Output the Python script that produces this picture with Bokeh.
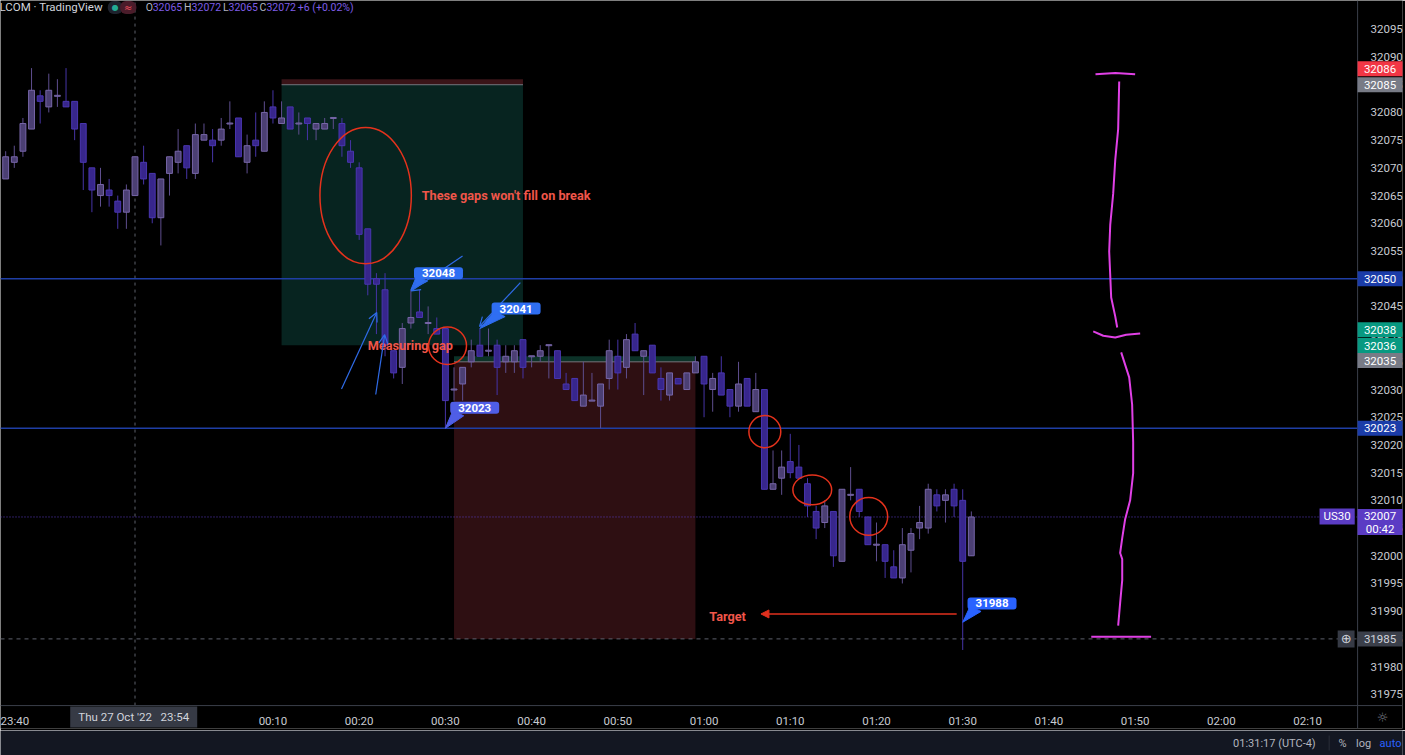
from bokeh.plotting import figure
from bokeh.models import Range1d, FixedTicker, Label, Arrow, OpenHead, NormalHead, Span, ColumnDataSource
from bokeh.layouts import column
from bokeh.embed import file_html
from bokeh.resources import INLINE
from bokeh.core.properties import value

FONT = "Roboto"

# ---- 1-minute US30 bars, minutes relative to 00:00 (Fri 28 Oct) ----
minutes = list(range(-21, 92))
opens = [32068, 32071, 32073, 32077, 32083, 32081, 32083, 32082, 32082, 32078, 32070, 32065, 32066, 32064, 32062,
         32065, 32071, 32069, 32061, 32069, 32071, 32074, 32069, 32075, 32075, 32075, 32078, 32079, 32071, 32075,
         32073, 32081, 32078, 32081, 32078, 32079, 32077, 32077, 32079, 32078, 32073, 32070, 32059, 32050, 32048,
         32037, 32034, 32042, 32044, 32042, 32041, 32041, 32030, 32031, 32035, 32038, 32037, 32038, 32035, 32035,
         32039, 32036, 32036, 32038, 32037, 32031, 32032, 32027, 32028, 32027, 32032, 32036, 32034, 32040, 32036,
         32038, 32032, 32029, 32032, 32030, 32033, 32036, 32030, 32033, 32030, 32027, 32032, 32026, 32030, 32012,
         32014, 32017, 32016, 32013, 32008, 32006, 32008, 31999, 32011, 32012, 32007, 32002, 32002, 31998, 31996,
         32001, 32005, 32005, 32011, 32010, 32012, 32010, 32000]
highs = [32073, 32074, 32079, 32088, 32084, 32087, 32086, 32088, 32082, 32078, 32070, 32070, 32068, 32065, 32067,
         32072, 32074, 32069, 32068, 32072, 32077, 32074, 32078, 32078, 32077, 32079, 32082, 32079, 32076, 32080,
         32082, 32084, 32082, 32081, 32080, 32079, 32078, 32079, 32079, 32079, 32075, 32071, 32059, 32051, 32051,
         32037, 32042, 32048, 32048, 32045, 32043, 32041, 32034, 32034, 32039, 32041, 32041, 32039, 32038, 32038,
         32039, 32036, 32038, 32038, 32037, 32033, 32032, 32035, 32033, 32031, 32039, 32039, 32040, 32042, 32037,
         32038, 32034, 32033, 32032, 32033, 32036, 32036, 32033, 32036, 32030, 32035, 32032, 32033, 32030, 32019,
         32019, 32022, 32020, 32014, 32009, 32010, 32008, 32012, 32016, 32012, 32007, 32006, 32002, 32001, 32005,
         32005, 32009, 32013, 32012, 32012, 32013, 32012, 32008]
lows = [32068, 32070, 32072, 32077, 32078, 32080, 32081, 32081, 32075, 32066, 32062, 32063, 32063, 32059, 32059,
        32065, 32067, 32060, 32056, 32065, 32069, 32068, 32068, 32075, 32071, 32074, 32077, 32072, 32069, 32072,
        32073, 32078, 32078, 32077, 32076, 32075, 32075, 32077, 32077, 32072, 32070, 32057, 32047, 32040, 32036,
        32032, 32031, 32041, 32043, 32040, 32040, 32023, 32028, 32028, 32034, 32036, 32036, 32029, 32033, 32033,
        32032, 32034, 32035, 32032, 32032, 32030, 32028, 32027, 32028, 32023, 32030, 32030, 32032, 32037, 32029,
        32033, 32028, 32028, 32031, 32030, 32033, 32025, 32026, 32029, 32025, 32026, 32027, 32026, 32012, 32012,
        32011, 32014, 32014, 32007, 32003, 32005, 31998, 31999, 32010, 32007, 32002, 31999, 31996, 31996, 31995,
        31997, 32003, 32004, 32008, 32006, 32007, 31983, 32000]
closes = [32072, 32072, 32078, 32084, 32082, 32084, 32083, 32081, 32077, 32071, 32066, 32067, 32065, 32062, 32066,
          32072, 32068, 32061, 32068, 32072, 32073, 32070, 32076, 32076, 32074, 32077, 32078, 32072, 32074, 32074,
          32080, 32079, 32079, 32077, 32078, 32078, 32078, 32078, 32079, 32074, 32071, 32058, 32049, 32049, 32038,
          32033, 32041, 32043, 32043, 32042, 32040, 32028, 32030, 32034, 32037, 32036, 32037, 32034, 32036, 32037,
          32034, 32036, 32037, 32038, 32032, 32030, 32028, 32029, 32028, 32031, 32037, 32033, 32039, 32037, 32037,
          32033, 32030, 32033, 32031, 32033, 32035, 32031, 32032, 32029, 32027, 32031, 32027, 32030, 32012, 32013,
          32016, 32015, 32014, 32009, 32005, 32009, 32000, 32012, 32011, 32008, 32002, 32002, 31999, 31996, 32002,
          32004, 32006, 32012, 32009, 32011, 32009, 31999, 32007]

# axis ticks
price_ticks = [31975, 31980, 31985, 31990, 31995, 32000, 32005, 32010, 32015, 32020, 32025, 32030,
               32035, 32040, 32045, 32050, 32055, 32060, 32065, 32070, 32075, 32080, 32085, 32090, 32095]
time_ticks = [-20, 10, 20, 30, 40, 50, 60, 70, 80, 90, 100, 110, 120, 130]
time_labels = ["23:40", "00:10", "00:20", "00:30", "00:40", "00:50", "01:00", "01:10", "01:20",
               "01:30", "01:40", "01:50", "02:00", "02:10"]

# position tools (minutes, prices)
short_start, short_end = 11, 39
short_stop, short_entry, short_target = 32086, 32085, 32038
long_start, long_end = 31, 59
long_target, long_entry, long_stop = 32036, 32035, 31985

# horizontal levels and crosshair
levels = [32050, 32023]
last_price = 32007
countdown = "00:42"
cross_t, cross_p = -6, 31985
cross_time_text = "Thu 27 Oct '22\u00a0\u00a0\u00a023:54"

# hand-drawn rings around the gaps
ring_t = [20.75, 30.25, 67.05, 72.55, 79.1]
ring_p = [32065.0, 32037.9, 32022.4, 32011.9, 32007.1]
ring_w = [10.6, 4.4, 3.7, 4.5, 4.4]
ring_h = [24.6, 6.8, 5.8, 5.4, 6.8]

# price notes
note_t = [26, 34, 30, 90]
note_p = [32048, 32041, 32023, 31988]
note_box_t = [29.2, 38.2, 33.4, 93.4]
note_box_p = [32051.0, 32044.6, 32026.7, 31991.4]
note_colors = ["#2f6ef2", "#2f6ef2", "#4f5ee6", "#2962ff"]

# free text
caption_t = [27.25, 21.0, 60.6]
caption_p = [32065.1, 32037.9, 31989.0]
captions = ["These gaps won't fill on break", "Measuring gap", "Target"]

# blue hand-drawn arrows
arrow_t0 = [17.95, 21.92, 31.99, 38.7]
arrow_p0 = [32030.1, 32029.1, 32054.1, 32049.3]
arrow_t1 = [22.04, 22.96, 26.03, 33.96]
arrow_p1 = [32043.9, 32039.9, 32047.8, 32041.4]

# target arrow
target_arrow_t = [89.3, 66.6]
target_arrow_p = [31989.5, 31989.5]

# magenta brace
brace_t = [
    [105.4, 107.7, 110.0],
    [108.15, 108.03, 107.69, 107.45, 107.11, 106.99, 107.22, 107.69, 107.92],
    [105.14, 106.30, 107.69, 108.96, 110.58],
    [108.38, 109.31, 109.65, 109.77, 109.77, 109.42, 108.84, 108.50, 108.26, 108.50, 108.50, 108.26, 108.03],
    [104.91, 111.85],
]
brace_p = [
    [32086.9, 32087.1, 32086.9],
    [32085.6, 32077.0, 32071.4, 32065.3, 32059.7, 32054.9, 32046.6, 32043.2, 32041.2],
    [32040.5, 32039.7, 32039.4, 32039.9, 32040.1],
    [32036.7, 32032.2, 32027.3, 32020.5, 32014.9, 32010.0, 32006.6, 32003.2, 32000.5, 31999.4, 31995.6,
     31991.5, 31987.4],
    [31985.4, 31985.4],
]

# ---- layout: the frame spans the whole canvas; the price scale column and
# the time scale strip live inside it, the axes draw their labels inwards ----
PAGE_W, PAGE_H = 1405, 730
CHART_W, CHART_H = 1360, 707            # candle pane
X_START, CHART_X_END = -21.6, 135.8     # minutes across the candle pane
CHART_Y_START, Y_END = 31972.97, 32100.2
MPP = (CHART_X_END - X_START) / CHART_W   # minutes per pixel
PPP = (Y_END - CHART_Y_START) / CHART_H   # points per pixel
X_END = X_START + PAGE_W * MPP
Y_START = Y_END - PAGE_H * PPP


def px_t(px):
    return X_START + px * MPP


def px_p(py):
    return Y_END - py * PPP


UP_FILL, UP_LINE, UP_WICK = "#4b3f73", "#7766a8", "#5e4e8e"
DN_FILL, DN_LINE, DN_WICK = "#37268c", "#4a36b0", "#4634a6"
AXIS_TEXT = "#c8cbd2"
SEP = "#3a3e49"

p = figure(width=PAGE_W, height=PAGE_H, x_range=Range1d(X_START, X_END), y_range=Range1d(Y_START, Y_END),
           y_axis_location="right", toolbar_location=None, output_backend="svg",
           min_border=0, min_border_left=0, min_border_right=0, min_border_top=0, min_border_bottom=0,
           background_fill_color="#000000", border_fill_color="#000000", outline_line_color=None)
p.grid.visible = False

yax = p.yaxis[0]
yax.ticker = FixedTicker(ticks=price_ticks)
yax.axis_line_color = None
yax.major_tick_line_color = None
yax.minor_tick_line_color = None
yax.major_label_standoff = -(PAGE_W - CHART_W - 7)
yax.major_label_text_color = AXIS_TEXT
yax.major_label_text_font = FONT
yax.major_label_text_font_size = "11.5px"

xax = p.xaxis[0]
xax.ticker = FixedTicker(ticks=time_ticks)
xax.major_label_overrides = {t: lab for t, lab in zip(time_ticks, time_labels)}
xax.axis_line_color = None
xax.major_tick_line_color = None
xax.minor_tick_line_color = None
xax.major_label_standoff = -(PAGE_H - CHART_H - 2)
xax.major_label_text_color = AXIS_TEXT
xax.major_label_text_font = FONT
xax.major_label_text_font_size = "11.5px"

# pane separators
p.add_layout(Span(location=CHART_X_END, dimension="height", line_color=SEP, line_width=1))
p.add_layout(Span(location=CHART_Y_START, dimension="width", line_color=SEP, line_width=1))

# position tools
p.quad(left=[short_start], right=[short_end], bottom=[short_entry], top=[short_stop],
       fill_color="#3a1418", line_color=None)
p.quad(left=[short_start], right=[short_end], bottom=[short_target], top=[short_entry],
       fill_color="#072420", line_color=None)
p.quad(left=[long_start], right=[long_end], bottom=[long_entry], top=[long_target],
       fill_color="#0c3228", line_color=None)
p.quad(left=[long_start], right=[long_end], bottom=[long_stop], top=[long_entry],
       fill_color="#2e0f12", line_color=None)
p.segment(x0=[short_start, long_start], x1=[short_end, long_end], y0=[short_entry, long_entry],
          y1=[short_entry, long_entry], line_color="#8c8f99", line_alpha=0.8, line_width=1)

# crosshair and price lines (candle pane only)
p.segment(x0=[cross_t], x1=[cross_t], y0=[CHART_Y_START], y1=[Y_END], line_color="#5d606b",
          line_dash="3 4", line_width=1)
p.segment(x0=[X_START], x1=[CHART_X_END], y0=[cross_p], y1=[cross_p], line_color="#5d606b",
          line_dash="4 4", line_width=1)
p.segment(x0=[X_START] * len(levels), x1=[CHART_X_END] * len(levels), y0=levels, y1=levels,
          line_color="#1f3ea5", line_width=1.5)
p.segment(x0=[X_START], x1=[CHART_X_END], y0=[last_price], y1=[last_price], line_color="#5b3cc4",
          line_dash="1 2", line_width=1)

# candles
tops, bottoms, fills, lines, wicks = [], [], [], [], []
for o, c in zip(opens, closes):
    hi, lo = max(o, c), min(o, c)
    if hi - lo < PPP:
        mid = (hi + lo) / 2
        hi, lo = mid + PPP / 2, mid - PPP / 2
    tops.append(hi)
    bottoms.append(lo)
    up = c >= o
    fills.append(UP_FILL if up else DN_FILL)
    lines.append(UP_LINE if up else DN_LINE)
    wicks.append(UP_WICK if up else DN_WICK)
src = ColumnDataSource(dict(t=minutes, h=highs, l=lows, top=tops, bottom=bottoms,
                            fill=fills, line=lines, wick=wicks))
p.segment(x0="t", y0="l", x1="t", y1="h", line_color="wick", line_width=1, source=src)
p.vbar(x="t", width=0.68, top="top", bottom="bottom", fill_color="fill", line_color="line",
       line_width=1, source=src)

# rings and captions
p.ellipse(x=ring_t, y=ring_p, width=ring_w, height=ring_h, fill_color=None,
          line_color="#e5321c", line_width=1.5)
p.text(x=caption_t, y=caption_p, text=captions, text_font=value(FONT), text_font_style="bold",
       text_font_size="12.7px", text_color="#f0564a", text_baseline="middle", text_align="left")

# blue arrows
for t0, p0, t1, p1 in zip(arrow_t0, arrow_p0, arrow_t1, arrow_p1):
    p.add_layout(Arrow(end=OpenHead(size=9, line_color="#2f6be8", line_width=1.2),
                       x_start=t0, y_start=p0, x_end=t1, y_end=p1,
                       line_color="#2f6be8", line_width=1.2))

# target arrow
p.add_layout(Arrow(end=NormalHead(size=8, fill_color="#e0301e", line_color="#e0301e"),
                   x_start=target_arrow_t[0], y_start=target_arrow_p[0],
                   x_end=target_arrow_t[1], y_end=target_arrow_p[1],
                   line_color="#e0301e", line_width=1.5))

# brace
p.multi_line(xs=brace_t, ys=brace_p, line_color="#e040e6", line_width=2)

# price notes
tri_x, tri_y = [], []
for t, pr, bt, bp in zip(note_t, note_p, note_box_t, note_box_p):
    tri_x.append([bt - 22 * MPP, bt - 11 * MPP, t])
    tri_y.append([bp - 3 * PPP, bp - 8 * PPP, pr])
p.patches(xs=tri_x, ys=tri_y, fill_color=note_colors, line_color=note_colors, line_width=1)
for pr, bt, bp, col in zip(note_p, note_box_t, note_box_p, note_colors):
    p.add_layout(Label(x=bt, y=bp, text=str(pr), text_align="center", text_baseline="middle",
                       text_font=FONT, text_font_style="bold", text_font_size="11.5px",
                       text_color="#ffffff", background_fill_color=col, padding=(8, 2),
                       border_radius=3))

# price-scale tags
tag_prices = [short_stop, short_entry, levels[0], short_target, long_target, long_entry, levels[1], cross_p]
tag_fill = ["#f23645", "#787b86", "#1b3ca8", "#089981", "#089981", "#787b86", "#1b3ca8", "#3b3f4a"]
tag_text = ["#ffffff"] * 7 + ["#d1d4dc"]
tag_shift_px = [10.5, 0, 0, 15.6, 10.7, 1.3, 0, 0]      # stacked tags are nudged apart
tag_y = [pr + s * PPP for pr, s in zip(tag_prices, tag_shift_px)]
tag_x = px_t((CHART_W + PAGE_W) / 2)
tag_box = p.rect(x=[tag_x] * len(tag_y), y=tag_y, width=PAGE_W - CHART_W, height=15,
                 width_units="screen", height_units="screen", fill_color=tag_fill, line_color=None)
tag_lbl = p.text(x=[tag_x] * len(tag_y), y=tag_y, text=[str(v) for v in tag_prices],
                 text_align="center", text_baseline="middle", text_font=value(FONT),
                 text_font_size="11.5px", text_color=tag_text)
last_box = p.rect(x=[tag_x], y=[last_price - 5 * PPP], width=PAGE_W - CHART_W, height=26,
                  width_units="screen", height_units="screen", fill_color="#5b3cc4", line_color=None)
last_lbl = p.text(x=[tag_x, tag_x], y=[last_price + 1 * PPP, last_price - 12 * PPP],
                  text=[str(last_price), countdown], text_align="center", text_baseline="middle",
                  text_font=value(FONT), text_font_size="11.5px", text_color="#ffffff")
# crosshair time tag in the time strip
time_box = p.rect(x=[cross_t - 0.15], y=[px_p(718.5)], width=127, height=21,
                  width_units="screen", height_units="screen", fill_color="#363a45", line_color=None)
time_lbl = p.text(x=[cross_t - 0.15], y=[px_p(718.5)], text=[cross_time_text], text_align="center",
                  text_baseline="middle", text_font=value(FONT), text_font_size="11.5px", text_color="#d1d4dc")
sun = p.text(x=[px_t(1385)], y=[px_p(719)], text=["\u263c"], text_align="center", text_baseline="middle",
             text_font=value("DejaVu Sans"), text_font_size="13px", text_color="#787b86")
for r in (tag_box, tag_lbl, last_box, last_lbl, time_box, time_lbl, sun):
    r.level = "overlay"

p.add_layout(Label(x=px_t(1339.5), y=last_price, y_offset=0.5, text="US30",
                   text_align="center", text_baseline="middle", text_font=FONT, text_font_size="11.5px",
                   text_color="#ffffff", background_fill_color="#5b3cc4", padding=(4, 1)))
p.add_layout(Label(x=px_t(1348.5), y=cross_p, text="\u2295",
                   text_align="center", text_baseline="middle", text_font="DejaVu Sans", text_font_size="13px",
                   text_color="#d1d4dc", background_fill_color="#363a45", padding=(3, 1)))

# header
HY = px_p(7)
p.add_layout(Label(x=px_t(-1), y=HY, text="LCOM \u00b7 TradingView",
                   text_align="left", text_baseline="middle", text_font=FONT, text_font_size="11.5px",
                   text_color="#d1d4dc"))
p.add_layout(Label(x=px_t(115), y=HY, text="\u25cf",
                   text_align="center", text_baseline="middle", text_font="DejaVu Sans", text_font_size="8px",
                   text_color="#22ab94", background_fill_color="#1e222d", padding=(4, 2), border_radius=6))
p.add_layout(Label(x=px_t(128), y=HY, text="\u2248",
                   text_align="center", text_baseline="middle", text_font="DejaVu Sans", text_font_size="10px",
                   text_color="#f7525f", background_fill_color="#4a1c2a", padding=(4, 1), border_radius=6))
last_bar = minutes.index(cross_t)
ohlc_parts = [("O", 145.5, "#b2b5be"), (str(opens[last_bar]), 152.5, "#7e5de6"),
              ("H", 184, "#b2b5be"), (str(highs[last_bar]), 191.5, "#7e5de6"),
              ("L", 223, "#b2b5be"), (str(lows[last_bar]), 228.5, "#7e5de6"),
              ("C", 259.5, "#b2b5be"), (str(closes[last_bar]), 266.5, "#7e5de6"),
              ("+6 (+0.02%)", 298, "#7e5de6")]
for txt, xs, col in ohlc_parts:
    p.add_layout(Label(x=px_t(xs), y=HY, text=txt,
                       text_align="left", text_baseline="middle", text_font=FONT, text_font_size="10.5px",
                       text_color=col))

# status bar
s = figure(width=PAGE_W, height=25, x_range=Range1d(0, PAGE_W), y_range=Range1d(0, 25),
           x_axis_location=None, y_axis_location=None,
           toolbar_location=None, output_backend="svg", min_border=0,
           min_border_left=0, min_border_right=0, min_border_top=0, min_border_bottom=0,
           background_fill_color="#131722", border_fill_color="#131722", outline_line_color=None)
s.grid.visible = False
s.text(x=[1318], y=[12.5], text=["01:31:17 (UTC-4)"], text_align="right", text_baseline="middle",
       text_font=value(FONT), text_font_size="11px", text_color="#b2b5be")
s.segment(x0=[1331.5], x1=[1331.5], y0=[5], y1=[20], line_color="#2a2e39", line_width=1)
s.text(x=[1345, 1366, 1393], y=[12.5, 12.5, 12.5], text=["%", "log", "auto"], text_align="center",
       text_baseline="middle", text_font=value(FONT), text_font_size="11px",
       text_color=["#b2b5be", "#b2b5be", "#2962ff"])

layout = column(p, s, spacing=0)
open("out.html", "w").write(file_html(layout, INLINE))
